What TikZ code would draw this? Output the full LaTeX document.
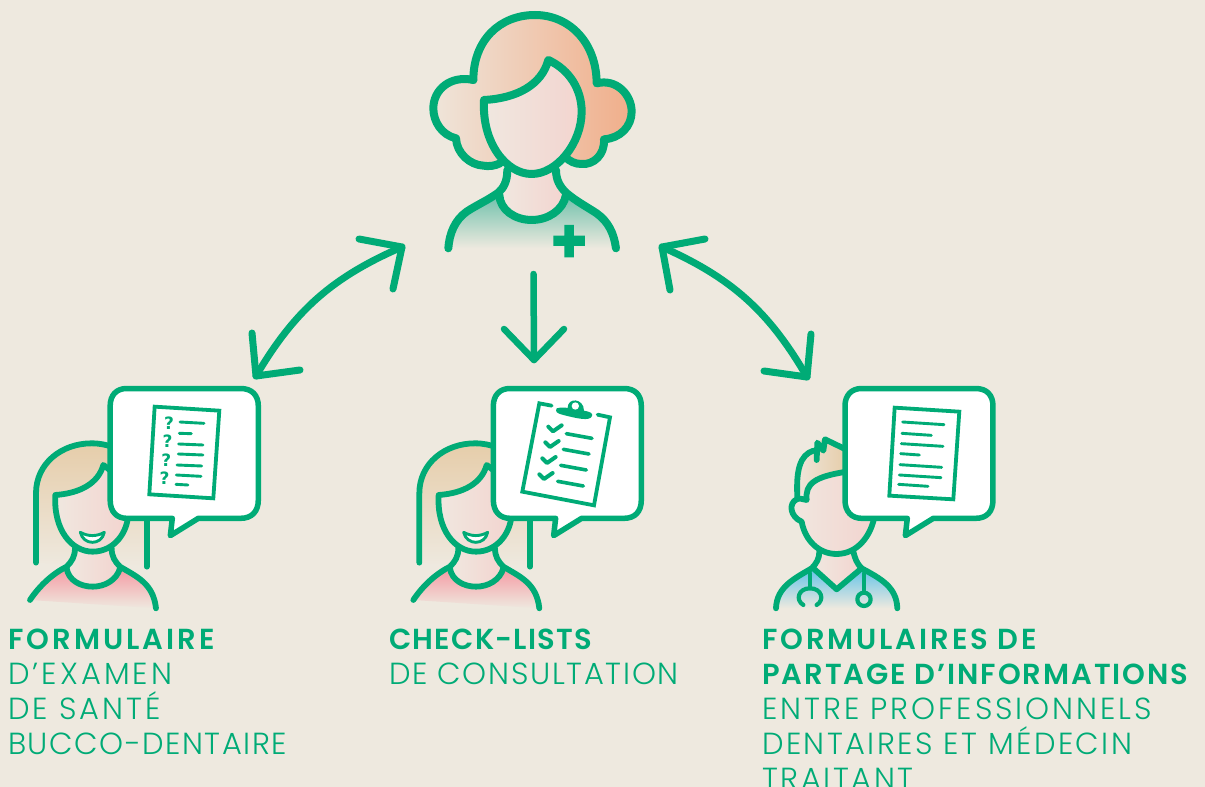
\documentclass[tikz,border=0pt]{standalone}
\usepackage{fontspec}
\setmainfont{Poppins Light}
\newfontfamily\boldf{Poppins SemiBold}
\newfontfamily\qf{DejaVu Sans}
\usetikzlibrary{arrows.meta}
\definecolor{bg}{HTML}{EEE9DF}
\definecolor{gr}{HTML}{00AB76}
\definecolor{hairA}{HTML}{EFE5DA}
\definecolor{hairB}{HTML}{F0AE8A}
\definecolor{faceA}{HTML}{F0E8E0}
\definecolor{faceB}{HTML}{F3D4CF}
\definecolor{teal}{HTML}{6FC1AC}
\definecolor{pink}{HTML}{F59AA3}
\definecolor{blue}{HTML}{62C3E8}
\definecolor{blond}{HTML}{E6CDAA}
\tikzset{
 ln/.style={draw=gr,line width=8pt,line cap=round,line join=round},
 fig/.style={draw=gr,line width=5.8pt,line cap=round,line join=round},
 thin ln/.style={draw=gr,line width=2.9pt,line cap=round,line join=round},
 paper/.style={draw=gr,line width=3.8pt,line cap=round,line join=miter},
 bubble/.style={draw=gr,line width=5.5pt,fill=white,line join=round},
 arr/.style={draw=gr,line width=7pt,line cap=round,line join=round},
 lab/.style={anchor=north west,align=left,inner sep=0pt,text=gr,font=\fontsize{30.5}{35}\selectfont},
}
\newcommand{\bb}[2]{{\boldf\fontsize{29}{35}\selectfont\addfontfeature{LetterSpace=#1}#2}}
\newcommand{\rg}[2]{{\addfontfeature{LetterSpace=#1}#2}}
\begin{document}
\begin{tikzpicture}[x=1pt,y=-1pt]
\fill[bg] (0,0) rectangle (1205,787);
\useasboundingbox (0,0) rectangle (1205,787);
% nurse
\begin{scope}[shift={(420,0)},x=0.3333pt,y=-0.3333pt]
\shade[left color=hairA,right color=hairB] (160,240) .. controls (160,120) and (240,45) .. (345,45) .. controls (450,45) and (530,130) .. (530,250) .. controls (590,235) and (635,285) .. (635,335) .. controls (635,380) and (600,415) .. (552,418) .. controls (555,465) and (520,495) .. (485,492) .. controls (465,492) and (450,485) .. (435,470) -- (240,490) .. controls (225,498) and (205,500) .. (190,497) .. controls (150,495) and (110,460) .. (108,415) .. controls (65,405) and (40,365) .. (40,325) .. controls (40,270) and (90,225) .. (160,240) -- cycle;
\shade[left color=faceA,right color=faceB] (262,505) -- (408,505) .. controls (408,540) and (420,560) .. (438,585) .. controls (430,630) and (385,660) .. (335,660) .. controls (285,660) and (240,630) .. (238,585) .. controls (255,560) and (262,540) .. (262,505) -- cycle;
\shade[top color=teal,bottom color=bg] (238,585) .. controls (240,630) and (285,660) .. (335,660) .. controls (385,660) and (430,630) .. (438,585) .. controls (470,605) and (500,620) .. (530,640) .. controls (565,665) and (582,700) .. (588,745) -- (85,745) .. controls (88,700) and (105,660) .. (140,635) .. controls (170,615) and (205,600) .. (238,585) -- cycle;
\path[ln] (160,240) .. controls (160,120) and (240,45) .. (345,45) .. controls (450,45) and (530,130) .. (530,250) .. controls (590,235) and (635,285) .. (635,335) .. controls (635,380) and (600,415) .. (552,418) .. controls (555,465) and (520,495) .. (485,492) .. controls (465,492) and (450,485) .. (435,470);
\path[ln] (160,240) .. controls (90,225) and (40,270) .. (40,325) .. controls (40,365) and (65,405) .. (108,415) .. controls (110,460) and (150,495) .. (190,497) .. controls (205,500) and (225,498) .. (240,490);
\path[ln,left color=faceA,right color=faceB] (192,300) .. controls (290,295) and (365,255) .. (385,180) .. controls (450,210) and (485,270) .. (485,335) .. controls (485,430) and (410,522) .. (335,522) .. controls (260,522) and (185,430) .. (192,300) -- cycle;
\path[ln] (262,510) .. controls (262,545) and (250,565) .. (235,578) .. controls (205,600) and (170,615) .. (140,635) .. controls (105,660) and (88,700) .. (85,745);
\path[ln] (408,510) .. controls (408,540) and (420,560) .. (438,578) .. controls (470,605) and (500,620) .. (530,640) .. controls (565,665) and (582,700) .. (588,745);
\path[ln] (238,585) .. controls (240,630) and (285,660) .. (335,660) .. controls (385,660) and (430,630) .. (438,585);
\fill[gr] (433,675) -- (462,675) -- (462,707) -- (495,707) -- (495,738) -- (462,738) -- (462,772) -- (433,772) -- (433,738) -- (400,738) -- (400,707) -- (433,707) -- cycle;
\end{scope}
% woman 1
\begin{scope}[shift={(20,380)},x=0.3333pt,y=-0.3333pt]
\shade[top color=blond,bottom color=bg] (48,548) -- (48,340) .. controls (48,250) and (125,190) .. (215,190) .. controls (300,190) and (380,250) .. (380,340) -- (380,560) -- cycle;
\shade[left color=faceA,right color=faceB] (165,500) -- (275,500) .. controls (275,530) and (285,545) .. (300,565) .. controls (290,600) and (255,620) .. (218,620) .. controls (180,620) and (145,600) .. (140,565) .. controls (155,545) and (165,530) .. (165,500) -- cycle;
\shade[top color=pink,bottom color=bg] (140,565) .. controls (145,600) and (180,620) .. (218,620) .. controls (255,620) and (290,600) .. (300,565) .. controls (350,590) and (400,610) .. (408,685) -- (30,660) .. controls (60,615) and (100,585) .. (140,565) -- cycle;
\path[fig] (48,548) -- (48,340) .. controls (48,250) and (125,190) .. (215,190) .. controls (240,190) and (260,195) .. (275,200);
\path[fig] (380,410) -- (380,560);
\path[fig,left color=faceA,right color=faceB] (106,345) .. controls (180,340) and (235,310) .. (250,255) .. controls (300,290) and (325,340) .. (325,395) .. controls (325,460) and (280,515) .. (218,515) .. controls (155,515) and (100,450) .. (106,345) -- cycle;
\path[fig] (165,505) .. controls (165,530) and (155,545) .. (140,560) .. controls (100,580) and (60,615) .. (30,660);
\path[fig] (275,505) .. controls (275,530) and (285,545) .. (300,560) .. controls (350,590) and (400,610) .. (408,685);
\path[fig] (140,565) .. controls (145,600) and (180,620) .. (218,620) .. controls (255,620) and (290,600) .. (300,565);
\path[thin ln,fill=white] (181,457) .. controls (205,470) and (230,470) .. (253,457) .. controls (245,497) and (190,497) .. (181,457) -- cycle;
\path[bubble] (320,25.5) -- (662,25.5) .. controls (695,25.5) and (715,45) .. (715,78) -- (715,360) .. controls (715,395) and (695,415) .. (662,415) -- (535,415) -- (451,467) -- (457,415) -- (320,415) .. controls (290,415) and (270.5,395) .. (270.5,360) -- (270.5,78) .. controls (270.5,45) and (290,25.5) .. (320,25.5) -- cycle;
\path[paper] (404,80) -- (598,92) -- (580,355) -- (388,343) -- cycle;
\foreach \y/\x in {130/447,185/443,240/439,295/434}{\node[text=gr,font=\qf\bfseries\fontsize{17}{17}\selectfont,inner sep=0pt] at (\x,\y) {?};}
\foreach \a/\b/\c/\d in {480/126/552/130,478/160/514/161,476/192/549/195,475/222/549/225,471/255/545/258,469/285/543/289,468/313/504/315}{\path[thin ln] (\a,\b) -- (\c,\d);}
\end{scope}
% woman 2
\begin{scope}[shift={(410,380)},x=0.3333pt,y=-0.3333pt]
\shade[top color=blond,bottom color=bg] (28,548) -- (28,340) .. controls (28,250) and (105,190) .. (195,190) .. controls (280,190) and (360,250) .. (360,340) -- (360,560) -- cycle;
\shade[left color=faceA,right color=faceB] (145,500) -- (255,500) .. controls (255,530) and (265,545) .. (280,565) .. controls (270,600) and (235,620) .. (198,620) .. controls (160,620) and (125,600) .. (120,565) .. controls (135,545) and (145,530) .. (145,500) -- cycle;
\shade[top color=pink,bottom color=bg] (120,565) .. controls (125,600) and (160,620) .. (198,620) .. controls (235,620) and (270,600) .. (280,565) .. controls (330,590) and (380,610) .. (388,685) -- (10,660) .. controls (40,615) and (80,585) .. (120,565) -- cycle;
\path[fig] (28,548) -- (28,340) .. controls (28,250) and (105,190) .. (195,190) .. controls (220,190) and (240,195) .. (255,200);
\path[fig] (360,410) -- (360,560);
\path[fig,left color=faceA,right color=faceB] (86,345) .. controls (160,340) and (215,310) .. (230,255) .. controls (280,290) and (305,340) .. (305,395) .. controls (305,460) and (260,515) .. (198,515) .. controls (135,515) and (80,450) .. (86,345) -- cycle;
\path[fig] (145,505) .. controls (145,530) and (135,545) .. (120,560) .. controls (80,580) and (40,615) .. (10,660);
\path[fig] (255,505) .. controls (255,530) and (265,545) .. (280,560) .. controls (330,590) and (380,610) .. (388,685);
\path[fig] (120,565) .. controls (125,600) and (160,620) .. (198,620) .. controls (235,620) and (270,600) .. (280,565);
\path[thin ln,fill=white] (161,457) .. controls (185,470) and (210,470) .. (233,457) .. controls (225,497) and (170,497) .. (161,457) -- cycle;
\path[bubble] (300,25.5) -- (642,25.5) .. controls (675,25.5) and (694,45) .. (694,78) -- (694,360) .. controls (694,395) and (675,415) .. (642,415) -- (515,415) -- (431,467) -- (437,415) -- (300,415) .. controls (270,415) and (250,395) .. (250,360) -- (250,78) .. controls (250,45) and (270,25.5) .. (300,25.5) -- cycle;
\path[paper,line cap=round] (425,77) -- (388,70) -- (337,335) -- (552,376) -- (600,112) -- (563,104);
\fill[gr] (440,85) .. controls (450,82) and (465,82) .. (473,84) .. controls (473,50) and (522,55) .. (522,92) .. controls (540,95) and (550,100) .. (546,108) .. controls (540,125) and (500,115) .. (460,105) .. controls (440,100) and (435,95) .. (440,85) -- cycle;
\fill[white] (496,78) circle (11);
\foreach \x/\y/\a/\b in {415/140/466/158,406/187/457/205,397/235/449/253,388/283/440/301}{
 \path[thin ln,line width=4pt] (\x,\y) -- ++(14,14) -- ++(26,-18);
 \path[thin ln,line width=3.6pt] (\a+3,\y+21) -- (\a+80,\y+35);
}
\end{scope}
% doctor
\begin{scope}[shift={(760,380)},x=0.3333pt,y=-0.3333pt]
\shade[left color=hairA!70!bg,right color=blond] (112,350) .. controls (108,270) and (120,225) .. (165,210) -- (172,185) -- (195,175) -- (260,205) -- (260,290) -- (150,320) -- cycle;
\shade[left color=faceA,right color=faceB] (170,500) -- (290,500) .. controls (290,530) and (295,550) .. (305,565) -- (230,628) -- (160,565) .. controls (170,550) and (175,530) .. (170,500) -- cycle;
\shade[top color=blue,bottom color=bg] (160,565) -- (230,628) -- (305,565) .. controls (360,595) and (410,620) .. (412,685) -- (48,685) .. controls (50,620) and (105,595) .. (160,565) -- cycle;
\path[fig,left color=faceA,right color=faceB] (140,360) .. controls (135,310) and (165,290) .. (260,275) -- (345,400) .. controls (335,470) and (290,522) .. (230,522) .. controls (175,522) and (135,480) .. (125,425) .. controls (90,410) and (85,370) .. (110,358) .. controls (120,352) and (130,360) .. (140,360) -- cycle;
\path[fig] (112,350) .. controls (108,270) and (120,225) .. (160,212);
\path[fig] (170,240) -- (172,188) -- (190,212) -- (195,178) -- (255,207);
\path[fig] (178,515) .. controls (178,535) and (170,550) .. (155,565) .. controls (105,595) and (50,620) .. (48,685);
\path[fig] (280,515) .. controls (285,535) and (290,550) .. (305,565) .. controls (360,595) and (410,620) .. (412,685);
\path[fig] (160,565) -- (230,628) -- (305,565);
\path[thin ln,line width=4.2pt] (150,580) -- (150,625);
\path[thin ln,line width=4.2pt] (312,580) -- (312,635);
\path[thin ln,line width=4.2pt] (130,675) .. controls (105,660) and (115,625) .. (150,625) .. controls (185,625) and (195,660) .. (170,675);
\path[thin ln,line width=4.2pt] (312,658) circle (20);
\path[bubble] (305,25.5) -- (647,25.5) .. controls (680,25.5) and (699,45) .. (699,78) -- (699,360) .. controls (699,395) and (680,415) .. (647,415) -- (520,415) -- (436,467) -- (442,415) -- (305,415) .. controls (275,415) and (255,395) .. (255,360) -- (255,78) .. controls (255,45) and (275,25.5) .. (305,25.5) -- cycle;
\path[paper] (404,83) -- (598,95) -- (580,358) -- (388,347) -- cycle;
\foreach \a/\b/\c/\d in {428/126/552/134,426/160/514/166,424/191/549/199,422/221/478/225,420/254/545/262,418/285/543/293,416/313/504/319}{\path[thin ln] (\a,\b) -- (\c,\d);}
\end{scope}
% arrows
\coordinate (nL) at (402,247);
\coordinate (nLa) at (359,239);
\coordinate (nLb) at (393,289);
\coordinate (f1) at (256,376);
\coordinate (f1a) at (252,333);
\coordinate (f1b) at (300,370);
\coordinate (nC) at (533.5,274);
\coordinate (f2) at (534,360);
\coordinate (f2a) at (504,329);
\coordinate (f2b) at (564,329);
\coordinate (nR) at (662,247);
\coordinate (nRa) at (705,239);
\coordinate (nRb) at (670,290);
\coordinate (f3) at (807,377);
\coordinate (f3a) at (764,371);
\coordinate (f3b) at (811,334);
\draw[arr] (nL) to[bend right=18] (f1);
\draw[arr] (nLa) -- (nL) -- (nLb);
\draw[arr] (f1a) -- (f1) -- (f1b);
\draw[arr,line width=6.5pt] (nC) -- (f2);
\draw[arr,line width=6.5pt] (f2a) -- (f2) -- (f2b);
\draw[arr] (nR) to[bend left=18] (f3);
\draw[arr] (nRa) -- (nR) -- (nRb);
\draw[arr] (f3a) -- (f3) -- (f3b);
% labels
\node[lab] (t1) at (8,628.5) {\bb{10.5}{FORMULAIRE}\\\rg{10}{D’EXAMEN}\\\rg{9.6}{DE SANTÉ}\\\rg{5}{BUCCO-DENTAIRE}};
\node[lab] (t2) at (389,628.5) {\bb{4.5}{CHECK-LISTS}\\\rg{5.5}{DE CONSULTATION}};
\node[lab] (t3) at (762,628.5) {\bb{10}{FORMULAIRES DE}\\\bb{6.7}{PARTAGE D’INFORMATIONS}\\\rg{9.7}{ENTRE PROFESSIONNELS}\\\rg{8}{DENTAIRES ET MÉDECIN}\\\rg{8.6}{TRAITANT}};
\end{tikzpicture}
\end{document}
